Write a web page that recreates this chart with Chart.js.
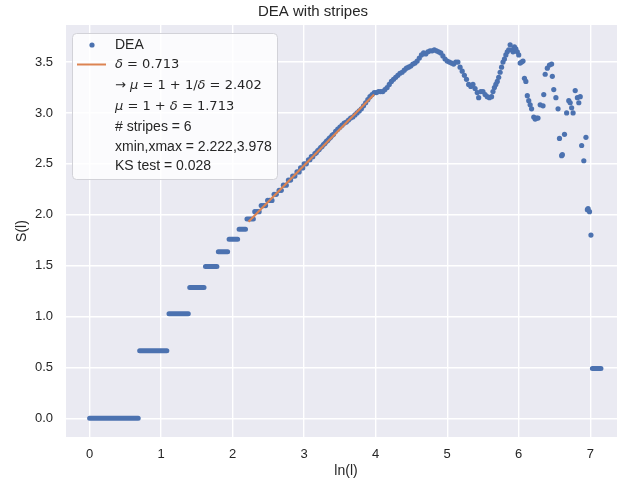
<!DOCTYPE html>
<html>
<head>
<meta charset="utf-8">
<script src="https://cdn.jsdelivr.net/npm/chart.js@4/dist/chart.umd.min.js"></script>
<style>
  html, body { margin: 0; padding: 0; background: #fff; overflow: hidden; }
  #wrap { width: 630px; height: 486px; }
</style>
</head>
<body>
<div id="wrap"><canvas id="chart" width="630" height="486"></canvas></div>
<script>
// horizontal stripes at small l (start, end in ln(l), level S)
const stripeStart = [0.00, 0.70, 1.11, 1.40, 1.62, 1.80, 1.95, 2.09, 2.20, 7.03]
const stripeEnd   = [0.68, 1.08, 1.38, 1.60, 1.78, 1.93, 2.07, 2.18, 2.29, 7.15]
const stripeLevel = [0.000, 0.664, 1.026, 1.285, 1.492, 1.637, 1.758, 1.857, 1.958, 0.49]

// individual DEA points for larger l
const deaX = [
  2.31, 2.34, 2.37, 2.40, 2.43, 2.46, 2.49, 2.52, 2.55, 2.58, 2.61, 2.65, 2.68, 2.71, 2.75,
  2.78, 2.81, 2.84, 2.87, 2.90, 2.93, 2.95, 2.98, 3.00, 3.03, 3.06, 3.08, 3.10, 3.12, 3.15,
  3.17, 3.19, 3.21, 3.23, 3.25, 3.27, 3.29, 3.31, 3.33, 3.35, 3.37, 3.39, 3.41, 3.44, 3.47,
  3.50, 3.53, 3.56, 3.59, 3.62, 3.65, 3.68, 3.71, 3.74, 3.77, 3.80, 3.83, 3.86, 3.89, 3.92,
  3.95, 3.98, 4.01, 4.04, 4.07, 4.10, 4.13, 4.16, 4.19, 4.22, 4.25, 4.28, 4.31, 4.34, 4.37,
  4.40, 4.43, 4.46, 4.49, 4.52, 4.55, 4.58, 4.61, 4.64, 4.67, 4.70, 4.73, 4.76, 4.79, 4.82,
  4.85, 4.88, 4.91, 4.94, 4.97, 5.00, 5.03, 5.06, 5.09, 5.12, 5.15, 5.18, 5.21, 5.24, 5.27,
  5.30, 5.33, 5.36, 5.39, 5.42, 5.44, 5.47, 5.50, 5.53, 5.56, 5.59, 5.62, 5.64, 5.66, 5.68,
  5.70, 5.72, 5.74, 5.76, 5.78, 5.80, 5.82, 5.84, 5.86, 5.88, 5.90, 5.92, 5.94, 5.96, 5.98,
  6.00, 6.02, 6.04, 6.06, 6.08, 6.10, 6.12, 6.14, 6.16, 6.18, 6.21, 6.23, 6.25, 6.27, 6.30,
  6.34, 6.35, 6.37, 6.40, 6.43, 6.46, 6.47, 6.49, 6.52, 6.55, 6.57, 6.60, 6.61, 6.64, 6.67,
  6.70, 6.72, 6.74, 6.76, 6.79, 6.82, 6.84, 6.86, 6.88, 6.91, 6.94, 6.96, 6.97, 6.99, 7.01
]
const deaY = [
  2.03, 2.03, 2.03, 2.09, 2.09, 2.09, 2.14, 2.14, 2.14, 2.20, 2.20, 2.24, 2.24, 2.29, 2.29,
  2.34, 2.34, 2.38, 2.38, 2.42, 2.42, 2.46, 2.46, 2.50, 2.50, 2.54, 2.54, 2.57, 2.57, 2.60,
  2.61, 2.63, 2.64, 2.66, 2.67, 2.69, 2.70, 2.72, 2.73, 2.75, 2.76, 2.78, 2.79, 2.82, 2.84,
  2.86, 2.88, 2.90, 2.91, 2.93, 2.95, 2.96, 2.98, 3.00, 3.02, 3.04, 3.07, 3.10, 3.13, 3.16,
  3.18, 3.20, 3.20, 3.21, 3.21, 3.21, 3.23, 3.25, 3.28, 3.31, 3.33, 3.35, 3.37, 3.39, 3.40,
  3.42, 3.44, 3.45, 3.46, 3.48, 3.49, 3.51, 3.54, 3.57, 3.59, 3.58, 3.60, 3.61, 3.61, 3.62,
  3.61, 3.60, 3.59, 3.56, 3.53, 3.51, 3.50, 3.49, 3.48, 3.50, 3.50, 3.45, 3.41, 3.37, 3.33,
  3.28, 3.26, 3.28, 3.24, 3.20, 3.15, 3.21, 3.21, 3.18, 3.16, 3.15, 3.16, 3.21, 3.25, 3.28,
  3.31, 3.35, 3.40, 3.45, 3.50, 3.53, 3.57, 3.60, 3.62, 3.67, 3.62, 3.60, 3.65, 3.63, 3.60,
  3.57, 3.49, 3.50, 3.51, 3.34, 3.31, 3.17, 3.12, 3.08, 3.04, 2.96, 2.94, 2.95, 2.95, 3.08,
  3.07, 3.18, 3.38, 3.44, 3.47, 3.48, 3.36, 3.23, 3.15, 3.04, 2.75, 2.58, 2.59, 2.79, 3.00,
  3.12, 3.10, 3.05, 3.00, 3.22, 3.15, 3.10, 3.16, 2.68, 2.53, 2.76, 2.05, 2.06, 2.03, 1.80
]

// fitted line between xmin and xmax
const fitX = [2.222, 3.978]
const fitY = [1.930, 3.182]

const xTicks = [0, 1, 2, 3, 4, 5, 6, 7]
const yTicks = [0, 0.5, 1, 1.5, 2, 2.5, 3, 3.5]

// legend rows: runs of [text, style] ('r' regular, 'm' math, 'i' italic math)
const legendRows = [
  [['DEA', 'r']],
  [['δ', 'i'], [' = 0.713', 'm']],
  [['→ ', 'm'], ['μ', 'i'], [' = 1 + 1/', 'm'], ['δ', 'i'], [' = 2.402', 'm']],
  [['μ', 'i'], [' = 1 + ', 'm'], ['δ', 'i'], [' = 1.713', 'm']],
  [['# stripes = 6', 'r']],
  [['xmin,xmax = 2.222,3.978', 'r']],
  [['KS test = 0.028', 'r']],
]

const BLUE = '#4C72B0'
const ORANGE = '#DD8452'
const TEXT = '#262626'
const FONT = "'Liberation Sans', Arial, sans-serif"
const MATH = "'DejaVu Sans', sans-serif"

Chart.defaults.font.family = FONT
Chart.defaults.color = TEXT

// build datasets from the arrays
const stripeData = []
stripeStart.forEach((s, i) => {
  stripeData.push({ x: s, y: stripeLevel[i] })
  stripeData.push({ x: stripeEnd[i], y: stripeLevel[i] })
  stripeData.push({ x: stripeEnd[i], y: null })
})
const deaData = deaX.map((x, i) => ({ x, y: deaY[i] }))
const fitData = fitX.map((x, i) => ({ x, y: fitY[i] }))

// seaborn-like grey plot background
const bgPlugin = {
  id: 'bg',
  beforeDraw(chart) {
    const { ctx, chartArea: a } = chart
    ctx.save()
    ctx.fillStyle = '#EAEAF2'
    ctx.fillRect(a.left, a.top, a.right - a.left, a.bottom - a.top)
    ctx.restore()
  },
}

// matplotlib-style legend box with math text
const legendPlugin = {
  id: 'mplLegend',
  afterDraw(chart) {
    const { ctx } = chart
    const box = { x: 72, y: 33, w: 205, h: 146, r: 4 }
    const rowY = [45, 64.5, 85.5, 106.5, 127.5, 147.5, 166.5]
    ctx.save()
    ctx.beginPath()
    ctx.roundRect(box.x + 0.5, box.y + 0.5, box.w, box.h, box.r)
    ctx.fillStyle = 'rgba(255,255,255,0.8)'
    ctx.fill()
    ctx.strokeStyle = '#D2D2D8'
    ctx.lineWidth = 1
    ctx.stroke()

    // handles
    ctx.fillStyle = BLUE
    ctx.beginPath()
    ctx.arc(92, rowY[0], 2.6, 0, Math.PI * 2)
    ctx.fill()
    ctx.strokeStyle = ORANGE
    ctx.lineWidth = 2
    ctx.beginPath()
    ctx.moveTo(77, rowY[1])
    ctx.lineTo(106, rowY[1])
    ctx.stroke()

    ctx.fillStyle = TEXT
    ctx.textBaseline = 'middle'
    legendRows.forEach((runs, i) => {
      let x = 115
      runs.forEach(([txt, st]) => {
        if (st === 'i') ctx.font = `oblique 13px ${MATH}`
        else if (st === 'm') ctx.font = `13px ${MATH}`
        else ctx.font = `14px ${FONT}`
        ctx.fillText(txt, x, rowY[i])
        x += ctx.measureText(txt).width
      })
    })
    ctx.restore()
  },
}

new Chart(document.getElementById('chart'), {
  type: 'scatter',
  data: {
    datasets: [
      {
        label: 'fit',
        data: fitData,
        showLine: true,
        borderColor: ORANGE,
        borderWidth: 2.1,
        pointRadius: 0,
        order: 0,
      },
      {
        label: 'DEA',
        data: deaData,
        backgroundColor: BLUE,
        borderWidth: 0,
        pointRadius: 2.6,
        order: 1,
      },
      {
        label: 'DEA stripes',
        data: stripeData,
        showLine: true,
        spanGaps: false,
        borderColor: BLUE,
        borderWidth: 5,
        borderCapStyle: 'round',
        pointRadius: 0,
        order: 2,
      },
    ],
  },
  options: {
    responsive: false,
    animation: false,
    layout: { padding: { left: 0, right: 4, top: 0, bottom: 0 } },
    plugins: {
      legend: { display: false },
      tooltip: { enabled: false },
      title: {
        display: true,
        text: 'DEA with stripes',
        color: TEXT,
        font: { size: 15, weight: 'normal' },
        padding: { top: 3, bottom: 4 },
      },
    },
    scales: {
      x: {
        type: 'linear',
        min: -0.33,
        max: 7.5,
        afterBuildTicks: (axis) => { axis.ticks = xTicks.map((v) => ({ value: v })) },
        afterFit: (axis) => { axis.height = 49 },
        ticks: { color: TEXT, font: { size: 13 }, padding: 10, callback: (v) => String(v) },
        grid: { color: '#FFFFFF', lineWidth: 1.4, drawTicks: false },
        border: { display: false },
        title: { display: true, text: 'ln(l)', color: TEXT, font: { size: 14 }, padding: { bottom: 6 } },
      },
      y: {
        type: 'linear',
        min: -0.184,
        max: 3.864,
        afterBuildTicks: (axis) => { axis.ticks = yTicks.map((v) => ({ value: v })) },
        afterFit: (axis) => { axis.width = 66 },
        ticks: { color: TEXT, font: { size: 13 }, padding: 13, callback: (v) => v.toFixed(1) },
        grid: { color: '#FFFFFF', lineWidth: 1.4, drawTicks: false },
        border: { display: false },
        title: { display: true, text: 'S(l)', color: TEXT, font: { size: 14 }, padding: { top: 14 } },
      },
    },
  },
  plugins: [bgPlugin, legendPlugin],
})
</script>
</body>
</html>
